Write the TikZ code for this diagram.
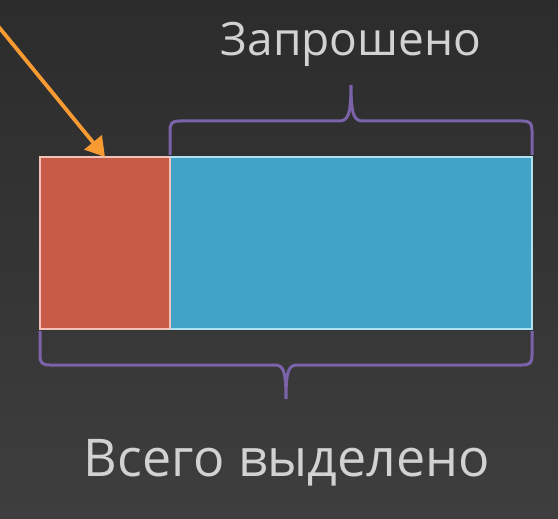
\documentclass[tikz,border=0pt]{standalone}
\usepackage{fontspec}
\setmainfont{Open Sans}
\usetikzlibrary{arrows.meta,positioning,calc}

\definecolor{bgtop}{HTML}{2C2C2C}
\definecolor{bgbot}{HTML}{3E3E3E}
\definecolor{hdrfill}{HTML}{C85B48}
\definecolor{hdrline}{HTML}{F2C2B8}
\definecolor{reqfill}{HTML}{42A3C9}
\definecolor{reqline}{HTML}{AEE2F0}
\definecolor{bracecol}{HTML}{7B63AA}
\definecolor{arrowcol}{HTML}{F79B32}
\definecolor{txtcol}{HTML}{D2D2D2}

\begin{document}
\begin{tikzpicture}[x=1pt, y=-1pt,
  block/.style={draw, line width=2pt, inner sep=0pt, outer sep=0pt,
                anchor=north west, minimum height=172pt},
  brace/.style={draw=bracecol, line width=3pt},
  pointer/.style={draw=arrowcol, line width=3.8pt,
                  -{Triangle[length=19pt,width=22pt]}},
  caption/.style={text=txtcol, font=\fontsize{46}{50}\selectfont, inner sep=0pt}
]
% background
\shade[top color=bgtop, bottom color=bgbot] (0,0) rectangle (558,519);
\useasboundingbox (0,0) rectangle (558,519);

% memory blocks
\node[block, fill=hdrfill, draw=hdrline, minimum width=130pt] (hdr) at (40,157) {};
\node[block, fill=reqfill, draw=reqline, minimum width=362pt, right=0pt of hdr.north east, anchor=north west] (reqd) {};
\draw[hdrline, line width=2pt] (hdr.north east) -- (hdr.south east);

% labels
\node[caption] (lblreq) at (351,44) {Запрошено};
\node[caption, font=\fontsize{52}{56}\selectfont] (lbltotal) at (287,463) {Всего выделено};

% requested brace
\draw[brace] ($(reqd.north west)+(0,-2)$) -- ++(0,-24)
  .. controls +(0,-8) and +(-8,0) .. ++(10,-10)
  -- ($(reqd.north)+(-12,-36)$)
  .. controls +(9,0) and +(0,30) .. ($(reqd.north)+(0,-72)$)
  .. controls +(0,30) and +(-9,0) .. ($(reqd.north)+(12,-36)$)
  -- ($(reqd.north east)+(-10,-36)$)
  .. controls +(8,0) and +(0,-8) .. ($(reqd.north east)+(0,-26)$)
  -- ($(reqd.north east)+(0,-2)$);

% total brace
\coordinate (mid) at ($(hdr.south west)!0.5!(reqd.south east)$);
\draw[brace] ($(hdr.south west)+(0,2)$) -- ++(0,24)
  .. controls +(0,8) and +(-8,0) .. ++(10,10)
  -- ($(mid)+(-12,36)$)
  .. controls +(9,0) and +(0,-30) .. ($(mid)+(0,70)$)
  .. controls +(0,-30) and +(-9,0) .. ($(mid)+(12,36)$)
  -- ($(reqd.south east)+(-10,36)$)
  .. controls +(8,0) and +(0,8) .. ($(reqd.south east)+(0,26)$)
  -- ($(reqd.south east)+(0,2)$);

% pointer to header
\coordinate (src) at (-2,26);
\draw[pointer] (src) -- (hdr.north);
\end{tikzpicture}
\end{document}
